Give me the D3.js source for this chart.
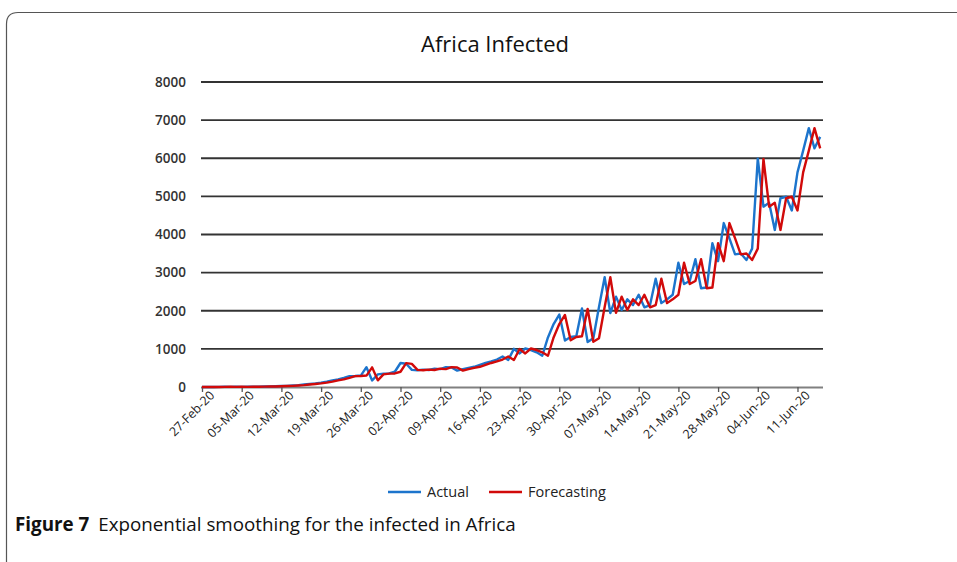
<!DOCTYPE html>
<html><head><meta charset="utf-8">
<script src="https://cdn.jsdelivr.net/npm/d3@7"></script>
<style>
html,body{margin:0;padding:0;background:#fff;}
svg{display:block;}
</style></head>
<body>
<svg id="chart" width="957" height="562"></svg>
<script>
// ---- data ----
const startDate = "2020-02-27";
const tickLabels = ["27-Feb-20","05-Mar-20","12-Mar-20","19-Mar-20","26-Mar-20","02-Apr-20","09-Apr-20","16-Apr-20","23-Apr-20","30-Apr-20","07-May-20","14-May-20","21-May-20","28-May-20","04-Jun-20","11-Jun-20"];
const yTicks = [0,1000,2000,3000,4000,5000,6000,7000,8000];
const actual = [1,0,1,2,6,3,5,4,8,6,10,14,12,20,25,30,40,50,65,80,95,115,140,175,200,240,285,290,300,520,
  170,330,350,355,400,630,610,450,440,455,445,480,470,520,510,430,470,500,530,580,
  630,670,720,800,710,1000,880,1010,970,910,820,1300,1650,1900,1220,1310,1330,2060,1180,1280,
  2100,2880,1940,2370,2020,2300,2150,2420,2090,2150,2840,2200,2300,2420,3260,2700,2780,3350,2590,2610,
  3770,3300,4300,3900,3480,3500,3330,3630,5990,4730,4830,4120,4950,4990,4630,5630,6200,6790,6260,6560];
const forecasting = [0,1,0,1,2,6,3,5,4,8,6,10,14,12,20,25,30,40,50,65,80,95,115,140,175,200,240,285,290,300,
  515,175,330,350,355,400,625,605,450,440,455,445,480,470,520,510,430,470,500,530,
  580,630,670,720,800,710,995,880,1010,970,910,820,1300,1650,1890,1225,1310,1330,2050,1185,
  1280,2100,2880,1945,2370,2020,2300,2150,2420,2090,2150,2840,2200,2300,2420,3260,2700,2780,3350,2590,
  2610,3770,3300,4300,3900,3480,3500,3330,3630,5980,4730,4830,4120,4950,4990,4630,5630,6200,6790,6260];
const seriesNames = ["Actual","Forecasting"];
const seriesColors = ["#1c74cc","#d10a0a"];

// ---- drawing ----
const svg = d3.select("#chart");
const parse = d3.timeParse("%Y-%m-%d");
const parseTick = d3.timeParse("%d-%b-%y");
const t0 = parse(startDate);
const dates = actual.map((_, i) => d3.timeDay.offset(t0, i));
const tEnd = d3.timeHour.offset(dates[dates.length - 1], 12);

const x = d3.scaleTime().domain([t0, tEnd]).range([202, 823]);
const y = d3.scaleLinear().domain([0, 8000]).range([387, 82]);

// frame
svg.append("path")
  .attr("d", "M6.5,562 L6.5,24 Q6.5,12.5 18,12.5 L957,12.5")
  .attr("fill", "none").attr("stroke", "#555").attr("stroke-width", 1.2);

// title
svg.append("text").attr("x", 495).attr("y", 52).attr("text-anchor", "middle")
  .attr("font-family", "'Open Sans',sans-serif").attr("font-size", 22)
  .attr("fill", "#111").text("Africa Infected");

// gridlines
svg.append("g").selectAll("line").data(yTicks.filter(d => d > 0)).join("line")
  .attr("x1", 201).attr("x2", 823).attr("y1", d => y(d)).attr("y2", d => y(d))
  .attr("stroke", "#333").attr("stroke-width", 1.8);

// y axis labels
const yAxis = d3.axisLeft(y).tickValues(yTicks).tickSize(0).tickPadding(0).tickFormat(d3.format("d"));
const gy = svg.append("g").attr("transform", "translate(186,0)").call(yAxis);
gy.select(".domain").remove();
gy.selectAll("text").attr("font-family", "'Open Sans',sans-serif").attr("font-size", 13.5)
  .attr("font-weight", 600).attr("fill", "#333");

// x axis
const xAxis = d3.axisBottom(x).tickValues(tickLabels.map(parseTick)).tickSize(5).tickPadding(3)
  .tickFormat((d, i) => tickLabels[i]);
const gx = svg.append("g").attr("transform", "translate(0,387)").call(xAxis);
gx.select(".domain").attr("d", "M201,0.5H823").attr("stroke", "#808080").attr("stroke-width", 1.8);
gx.selectAll(".tick line").attr("stroke", "#555").attr("stroke-width", 1.3);
gx.selectAll("text").attr("font-family", "'Open Sans',sans-serif").attr("font-size", 12.5)
  .attr("fill", "#222").attr("text-anchor", "end")
  .attr("dx", "0.2em").attr("dy", "0.6em")
  .attr("transform", "rotate(-45)");

// lines
const line = d3.line().x((d, i) => x(dates[i])).y(d => y(d));
[actual, forecasting].forEach((s, k) => {
  svg.append("path").datum(s).attr("d", line).attr("fill", "none")
    .attr("stroke", seriesColors[k]).attr("stroke-width", 2.4).attr("stroke-linejoin", "round");
});

// legend
const legendX = [388, 489];
seriesNames.forEach((n, k) => {
  const g = svg.append("g").attr("transform", `translate(${legendX[k]},492)`);
  g.append("line").attr("x1", 0).attr("x2", 33).attr("stroke", seriesColors[k]).attr("stroke-width", 2.6);
  g.append("text").attr("x", 39).attr("y", 5).attr("font-family", "'Open Sans',sans-serif")
    .attr("font-size", 14.5).attr("fill", "#222").text(n);
});

// caption
const cap = svg.append("text").attr("x", 15).attr("y", 531)
  .attr("font-family", "'Open Sans',sans-serif").attr("font-size", 18.8).attr("fill", "#111");
cap.append("tspan").attr("font-weight", 700).text("Figure 7");
cap.append("tspan").attr("dx", 9).text("Exponential smoothing for the infected in Africa");
</script>
</body></html>
